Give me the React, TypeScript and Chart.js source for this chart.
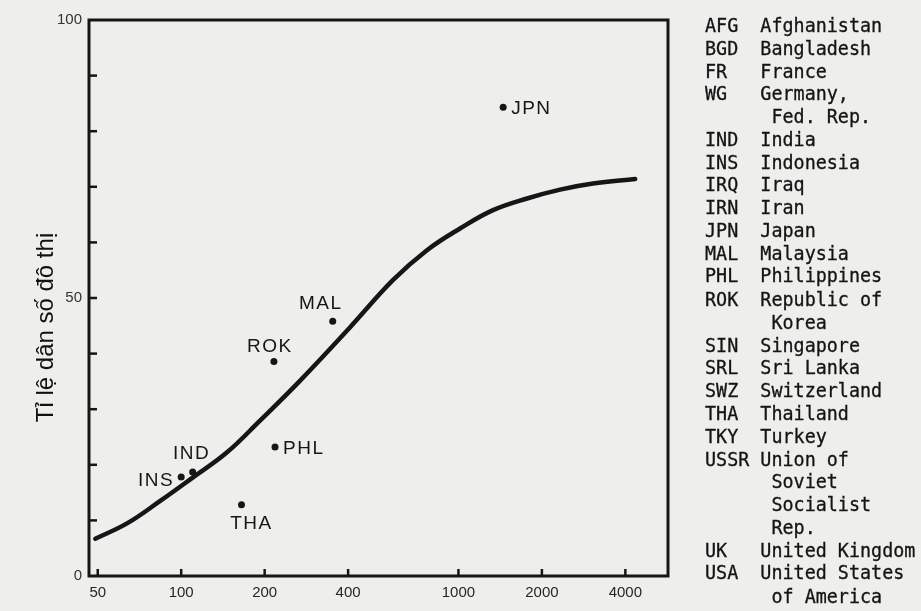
import React, { useEffect, useRef } from 'react';
import { Chart, registerables } from 'chart.js';

Chart.register(...registerables);

// ---- data ----
const countries = ['JPN', 'MAL', 'ROK', 'PHL', 'IND', 'INS', 'THA'];
const gnpPerCapita = [1450, 352, 216, 218, 110, 100, 165];
const urbanShare = [84.3, 45.8, 38.6, 23.2, 18.7, 17.8, 12.8];

const curveGnp = [49, 64, 84, 110, 146, 192, 268, 406, 580, 770, 1013, 1333, 1768, 2326, 3058, 4340];
const curveUrban = [6.7, 9.5, 13.5, 17.7, 22.2, 27.9, 35.1, 44.7, 53.2, 58.6, 62.5, 65.8, 67.9, 69.5, 70.6, 71.4];

const xTickValues = [50, 100, 200, 400, 1000, 2000, 4000];
const yLabelValues = [0, 50, 100];
const yMinorStep = 10;
const yAxisTitle = 'Tỉ lệ dân số đô thị';

const legendCodes = ['AFG', 'BGD', 'FR', 'WG', 'IND', 'INS', 'IRQ', 'IRN', 'JPN', 'MAL', 'PHL', 'ROK', 'SIN', 'SRL', 'SWZ', 'THA', 'TKY', 'USSR', 'UK', 'USA'];
const legendNames = [
  'Afghanistan', 'Bangladesh', 'France', 'Germany,\nFed. Rep.', 'India', 'Indonesia', 'Iraq', 'Iran', 'Japan',
  'Malaysia', 'Philippines', 'Republic of\nKorea', 'Singapore', 'Sri Lanka', 'Switzerland', 'Thailand', 'Turkey',
  'Union of\nSoviet\nSocialist\nRep.', 'United Kingdom', 'United States\nof America',
];

// ---- styles (label placement relative to each dot) ----
const labelPlacement: Record<string, { dx: number; dy: number; align: CanvasTextAlign }> = {
  JPN: { dx: 8, dy: 1, align: 'left' },
  MAL: { dx: -12, dy: -18, align: 'center' },
  ROK: { dx: -4, dy: -15, align: 'center' },
  PHL: { dx: 8, dy: 2, align: 'left' },
  IND: { dx: -1, dy: -18, align: 'center' },
  INS: { dx: -7, dy: 4, align: 'right' },
  THA: { dx: 10, dy: 19, align: 'center' },
};

const INK = '#161616';
const SANS = '"Liberation Sans", Arial, Helvetica, sans-serif';

const overlayPlugin = {
  id: 'overlay',
  afterDraw(chart: any) {
    const { ctx, chartArea: a, scales } = chart;
    const x = scales.x;
    const y = scales.y;
    ctx.save();
    ctx.strokeStyle = INK;
    ctx.lineCap = 'butt';
    // inward y ticks
    ctx.lineWidth = 2.5;
    for (let v = yMinorStep; v < 100; v += yMinorStep) {
      const py = y.getPixelForValue(v);
      ctx.beginPath();
      ctx.moveTo(a.left, py);
      ctx.lineTo(a.left + 8, py);
      ctx.stroke();
    }
    // inward x ticks
    for (const v of xTickValues) {
      const px = x.getPixelForValue(v);
      ctx.beginPath();
      ctx.moveTo(px, a.bottom);
      ctx.lineTo(px, a.bottom - 7);
      ctx.stroke();
    }
    // frame
    ctx.lineWidth = 3;
    ctx.strokeRect(a.left, a.top, a.right - a.left, a.bottom - a.top);

    // point labels
    const meta = chart.getDatasetMeta(1);
    ctx.fillStyle = INK;
    ctx.font = `19px ${SANS}`;
    ctx.textBaseline = 'middle';
    try { (ctx as any).letterSpacing = '1.5px'; } catch (e) {}
    countries.forEach((c, i) => {
      const el = meta.data[i];
      const p = labelPlacement[c];
      ctx.textAlign = p.align;
      ctx.fillText(c, el.x + p.dx, el.y + p.dy);
    });
    try { (ctx as any).letterSpacing = '0px'; } catch (e) {}

    // y axis title
    ctx.translate(53, 327.5);
    ctx.rotate(-Math.PI / 2);
    ctx.font = `24px ${SANS}`;
    ctx.textAlign = 'center';
    ctx.textBaseline = 'alphabetic';
    ctx.fillStyle = '#111';
    ctx.fillText(yAxisTitle, 0, 0);
    ctx.restore();
  },
};

export default function App() {
  const ref = useRef<HTMLCanvasElement>(null);

  useEffect(() => {
    if (!ref.current) return;
    const chart = new Chart(ref.current, {
      type: 'scatter',
      data: {
        datasets: [
          {
            data: curveGnp.map((g, i) => ({ x: g, y: curveUrban[i] })),
            showLine: true,
            borderColor: INK,
            borderWidth: 4.5,
            borderCapStyle: 'round',
            pointRadius: 0,
            tension: 0.4,
            fill: false,
          } as any,
          {
            data: gnpPerCapita.map((g, i) => ({ x: g, y: urbanShare[i] })),
            pointRadius: 3.5,
            pointBackgroundColor: INK,
            pointBorderWidth: 0,
            showLine: false,
          } as any,
        ],
      },
      options: {
        responsive: false,
        animation: false,
        devicePixelRatio: 1,
        layout: { padding: { top: 20, right: 253, left: 0, bottom: 0 } },
        plugins: { legend: { display: false }, tooltip: { enabled: false }, title: { display: false } },
        scales: {
          x: {
            type: 'logarithmic',
            min: 46.5,
            max: 5700,
            grid: { display: false, drawTicks: false },
            border: { display: false },
            afterBuildTicks: (s: any) => { s.ticks = xTickValues.map((v) => ({ value: v })); },
            afterFit: (s: any) => { s.height = 35; },
            ticks: {
              autoSkip: false,
              maxRotation: 0,
              padding: 8,
              color: '#262626',
              font: { family: SANS, size: 15 },
              callback: (v: any) => String(v),
            },
          },
          y: {
            type: 'linear',
            min: 0,
            max: 100,
            grid: { display: false, drawTicks: false },
            border: { display: false },
            afterBuildTicks: (s: any) => { s.ticks = yLabelValues.map((v) => ({ value: v })); },
            afterFit: (s: any) => { s.width = 89; },
            ticks: {
              padding: 7,
              color: '#333',
              font: { family: SANS, size: 15 },
              callback: (v: any) => String(v),
            },
          },
        },
      } as any,
      plugins: [overlayPlugin],
    });
    return () => chart.destroy();
  }, []);

  const rows: string[] = [];
  legendCodes.forEach((code, i) => {
    const lines = legendNames[i].split('\n');
    rows.push(code.padEnd(5) + lines[0]);
    for (let k = 1; k < lines.length; k++) rows.push('      ' + lines[k]);
  });

  const stretch = 1.1;
  return (
    <div style={{ position: 'fixed', left: 0, top: 0, width: 921, height: 611, background: '#eeeeec', overflow: 'hidden' }}>
      <canvas ref={ref} width={921} height={611} style={{ position: 'absolute', left: 0, top: 0, width: 921, height: 611 }} />
      <div
        style={{
          position: 'absolute',
          left: 705,
          top: 13.6,
          fontFamily: '"DejaVu Sans Mono", monospace',
          fontSize: 18.4,
          lineHeight: `${22.84 / stretch}px`,
          whiteSpace: 'pre',
          color: '#141414',
          WebkitTextStroke: '0.3px #141414',
          transform: `scaleY(${stretch})`,
          transformOrigin: 'top left',
        }}
      >
        {rows.map((r, i) => (
          <div key={i}>{r}</div>
        ))}
      </div>
    </div>
  );
}
